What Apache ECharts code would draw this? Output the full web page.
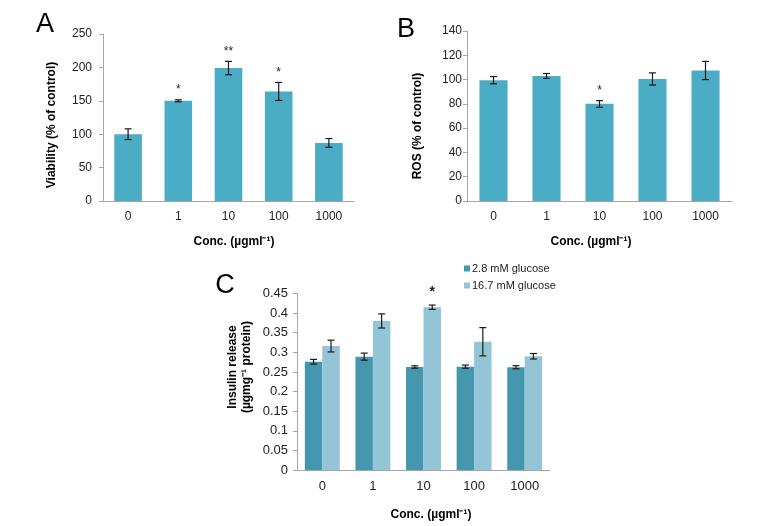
<!DOCTYPE html>
<html>
<head>
<meta charset="utf-8">
<script src="https://cdn.jsdelivr.net/npm/echarts@6/dist/echarts.min.js"></script>
<style>html,body{margin:0;padding:0;background:#fff}#c{width:771px;height:526px}</style>
</head>
<body>
<div id="c"></div>
<script>
const categories = ['0', '1', '10', '100', '1000'];

const viability = [100, 150, 199, 164, 87];
const viabilityErr = [8, 1.5, 10, 13.5, 6.5];
const viabilitySig = ['', '*', '**', '*', ''];

const ros = [99.5, 103, 80, 100.5, 107.5];
const rosErr = [3, 2, 2.7, 5, 7.5];
const rosSig = ['', '', '*', '', ''];

const insulinLow = [0.276, 0.289, 0.2625, 0.2635, 0.262];
const insulinLowErr = [0.006, 0.009, 0.003, 0.004, 0.004];
const insulinHigh = [0.316, 0.380, 0.415, 0.327, 0.290];
const insulinHighErr = [0.015, 0.018, 0.0055, 0.036, 0.007];
const insulinHighSig = ['', '', '*', '', ''];

const seriesNames = ['2.8 mM glucose', '16.7 mM glucose'];
const yAxisA = { min: 0, max: 250, interval: 50 };
const yAxisB = { min: 0, max: 140, interval: 20 };
const yAxisC = { min: 0, max: 0.45, interval: 0.05 };

const FONT = 'Liberation Sans, Arial, sans-serif';
const barColor = '#4bacc6';
const darkColor = '#4597b0';
const lightColor = '#93c5d7';
const axisColor = '#a6a6a6';

const chart = echarts.init(document.getElementById('c'));

function errSeries(xi, yi, vals, errs, sigs, group, sigSize, sigGap, sigWeight) {
  // group: 0 = single bar; -1 left of pair; +1 right of pair
  return {
    type: 'custom',
    xAxisIndex: xi, yAxisIndex: yi,
    z: 10,
    silent: true,
    data: vals.map((v, i) => [i, v, errs[i]]),
    renderItem: function (params, api) {
      const x = api.value(0), v = api.value(1), e = api.value(2);
      const band = api.size([1, 0])[0];
      let off = 0;
      if (group !== 0) {
        const bw = band * (1 - 0.31) / 2;
        off = group * bw / 2;
      }
      const t = api.coord([x, v + e]);
      const b = api.coord([x, v - e]);
      const cx = t[0] + off;
      const cap = 3.5;
      const st = { stroke: '#1a1a1a', lineWidth: 1.2 };
      const children = [
        { type: 'line', shape: { x1: cx, y1: t[1], x2: cx, y2: b[1] }, style: st },
        { type: 'line', shape: { x1: cx - cap, y1: t[1], x2: cx + cap, y2: t[1] }, style: st },
        { type: 'line', shape: { x1: cx - cap, y1: b[1], x2: cx + cap, y2: b[1] }, style: st }
      ];
      const s = sigs ? sigs[params.dataIndex] : '';
      if (s) {
        children.push({
          type: 'text',
          style: { text: s, x: cx, y: t[1] - (sigGap || 3), align: 'center', verticalAlign: 'bottom',
                   font: (sigWeight ? sigWeight + ' ' : '') + (sigSize || 12) + 'px ' + FONT, fill: '#222' }
        });
      }
      return { type: 'group', children: children };
    }
  };
}

function xAx(gi) {
  return {
    type: 'category', gridIndex: gi, data: categories,
    axisLine: { lineStyle: { color: axisColor, width: 1 } },
    axisTick: { show: false },
    axisLabel: { color: '#222', fontSize: gi === 2 ? 13 : 12, fontFamily: FONT, margin: 10 }
  };
}
function yAx(gi, cfg, margin) {
  return Object.assign({
    type: 'value', gridIndex: gi,
    axisLine: { show: true, lineStyle: { color: axisColor, width: 1 } },
    axisTick: { show: true, length: 4, lineStyle: { color: axisColor } },
    splitLine: { show: false },
    axisLabel: { color: '#222', fontSize: gi === 2 ? 13 : 12, fontFamily: FONT, margin: margin }
  }, cfg);
}

function txt(x, y, text, size, bold, rot) {
  return {
    type: 'text', x: x, y: y, rotation: rot ? Math.PI / 2 : 0,
    style: { text: text, align: 'center', verticalAlign: 'middle',
             font: (bold ? 'bold ' : '') + size + 'px ' + FONT, fill: '#000' }
  };
}

chart.setOption({
  animation: false,
  backgroundColor: '#fff',
  grid: [
    { left: 103, top: 34, width: 251, height: 167 },
    { left: 467, top: 31, width: 265, height: 170 },
    { left: 297, top: 293.5, width: 253, height: 176.5 }
  ],
  xAxis: [xAx(0), xAx(1), xAx(2)],
  yAxis: [yAx(0, yAxisA, 11), yAx(1, yAxisB, 5), yAx(2, yAxisC, 9)],
  legend: {
    data: seriesNames, orient: 'vertical', left: 459, top: 258,
    icon: 'rect', itemWidth: 6, itemHeight: 6, itemGap: 6,
    textStyle: { fontSize: 11, fontFamily: FONT, color: '#222', padding: [0, 0, 0, -3] }
  },
  graphic: [
    txt(45, 25, 'A', 27, false),
    txt(406, 30, 'B', 27, false),
    txt(225, 286, 'C', 27, false),
    txt(52, 125, 'Viability (% of control)', 12, true, true),
    txt(418, 126, 'ROS (% of control)', 12, true, true),
    txt(233, 367, 'Insulin release', 12, true, true),
    txt(247, 367, '(µgmg⁻¹ protein)', 12, true, true),
    txt(234, 242, 'Conc. (µgml⁻¹)', 12, true),
    txt(591, 242, 'Conc. (µgml⁻¹)', 12, true),
    txt(431, 515, 'Conc. (µgml⁻¹)', 12, true)
  ],
  series: [
    { type: 'bar', xAxisIndex: 0, yAxisIndex: 0, data: viability, barWidth: '55%',
      itemStyle: { color: barColor }, silent: true },
    errSeries(0, 0, viability, viabilityErr, viabilitySig, 0, 12, 4),
    { type: 'bar', xAxisIndex: 1, yAxisIndex: 1, data: ros, barWidth: '53%',
      itemStyle: { color: barColor }, silent: true },
    errSeries(1, 1, ros, rosErr, rosSig, 0, 12, 4),
    { name: seriesNames[0], type: 'bar', xAxisIndex: 2, yAxisIndex: 2, data: insulinLow,
      barGap: '0%', barCategoryGap: '31%', itemStyle: { color: darkColor }, silent: true },
    { name: seriesNames[1], type: 'bar', xAxisIndex: 2, yAxisIndex: 2, data: insulinHigh,
      barGap: '0%', barCategoryGap: '31%', itemStyle: { color: lightColor }, silent: true },
    errSeries(2, 2, insulinLow, insulinLowErr, null, -1),
    errSeries(2, 2, insulinHigh, insulinHighErr, insulinHighSig, 1, 14, 6, 'bold')
  ]
});
</script>
</body>
</html>
